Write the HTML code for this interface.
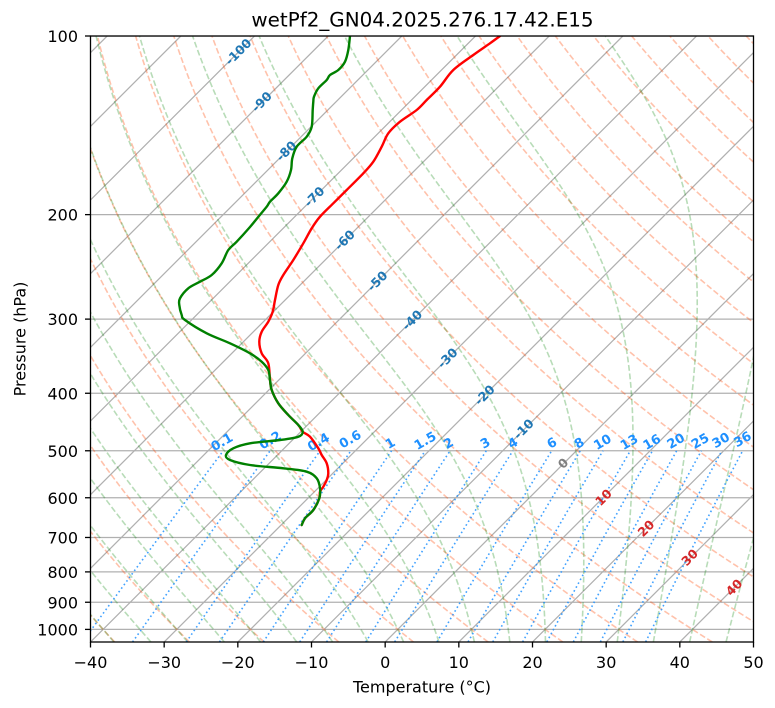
<!DOCTYPE html>
<html>
<head>
<meta charset="utf-8">
<style>
html,body{margin:0;padding:0;background:#fff;}
svg{display:block;font-family:"DejaVu Sans","Liberation Sans",sans-serif;}
.il{font-weight:bold;font-size:12.5px;text-anchor:middle;}
.ml{font-weight:bold;font-size:12.9px;text-anchor:middle;fill:#1e90ff;}
.tk{font-size:16px;fill:#000;}
</style>
</head>
<body>
<svg id="s" width="775" height="708" viewBox="0 0 775 708" xmlns="http://www.w3.org/2000/svg">
<defs><clipPath id="c"><rect x="90.5" y="36" width="663" height="606"/></clipPath></defs>
<rect width="775" height="708" fill="#fff"/>
<g clip-path="url(#c)">
  <g id="hgrid" stroke="#b0b0b0" stroke-width="1.25" fill="none"></g>
  <g id="iso" stroke="#b0b0b0" stroke-width="1.25" fill="none"></g>
  <g id="dry" stroke="#ff4500" stroke-opacity="0.33" stroke-width="1.6" fill="none" stroke-dasharray="5.9,2.6"></g>
  <g id="moist" stroke="#008000" stroke-opacity="0.28" stroke-width="1.6" fill="none" stroke-dasharray="5.9,2.6"></g>
  <g id="mix" stroke="#1e90ff" stroke-opacity="0.85" stroke-width="1.6" fill="none" stroke-dasharray="1.6,2.8"></g>

  <!-- isotherm labels -->
  <g id="isolab">
    <text class="il" fill="#1f77b4" transform="translate(238.2,51.7) rotate(-45)" dy="0.36em">-100</text>
    <text class="il" fill="#1f77b4" transform="translate(261.6,101.7) rotate(-45)" dy="0.36em">-90</text>
    <text class="il" fill="#1f77b4" transform="translate(286.2,151) rotate(-45)" dy="0.36em">-80</text>
    <text class="il" fill="#1f77b4" transform="translate(314.2,196.7) rotate(-45)" dy="0.36em">-70</text>
    <text class="il" fill="#1f77b4" transform="translate(344.6,240) rotate(-45)" dy="0.36em">-60</text>
    <text class="il" fill="#1f77b4" transform="translate(377.3,281) rotate(-45)" dy="0.36em">-50</text>
    <text class="il" fill="#1f77b4" transform="translate(412,320) rotate(-45)" dy="0.36em">-40</text>
    <text class="il" fill="#1f77b4" transform="translate(447.4,358) rotate(-45)" dy="0.36em">-30</text>
    <text class="il" fill="#1f77b4" transform="translate(484.5,395) rotate(-45)" dy="0.36em">-20</text>
    <text class="il" fill="#1f77b4" transform="translate(523.5,429) rotate(-45)" dy="0.36em">-10</text>
    <text class="il" fill="#7f7f7f" transform="translate(563,463.3) rotate(-45)" dy="0.36em">0</text>
    <text class="il" fill="#d62728" transform="translate(603.5,497.3) rotate(-45)" dy="0.36em">10</text>
    <text class="il" fill="#d62728" transform="translate(646,528.3) rotate(-45)" dy="0.36em">20</text>
    <text class="il" fill="#d62728" transform="translate(689.6,557.3) rotate(-45)" dy="0.36em">30</text>
    <text class="il" fill="#d62728" transform="translate(734,587.3) rotate(-45)" dy="0.36em">40</text>
  </g>

  <!-- mixing ratio labels -->
  <g id="mixlab">
    <text class="ml" transform="translate(221.7,441.7) rotate(-30)" dy="0.36em">0.1</text>
    <text class="ml" transform="translate(270,440) rotate(-30)" dy="0.36em">0.2</text>
    <text class="ml" transform="translate(318.3,441.7) rotate(-30)" dy="0.36em">0.4</text>
    <text class="ml" transform="translate(350,439) rotate(-30)" dy="0.36em">0.6</text>
    <text class="ml" transform="translate(390,443) rotate(-30)" dy="0.36em">1</text>
    <text class="ml" transform="translate(425,440.5) rotate(-30)" dy="0.36em">1.5</text>
    <text class="ml" transform="translate(448.3,443) rotate(-30)" dy="0.36em">2</text>
    <text class="ml" transform="translate(485,442.7) rotate(-30)" dy="0.36em">3</text>
    <text class="ml" transform="translate(512.7,442.7) rotate(-30)" dy="0.36em">4</text>
    <text class="ml" transform="translate(551.7,442.7) rotate(-30)" dy="0.36em">6</text>
    <text class="ml" transform="translate(579,442.7) rotate(-30)" dy="0.36em">8</text>
    <text class="ml" transform="translate(602.3,441.7) rotate(-30)" dy="0.36em">10</text>
    <text class="ml" transform="translate(629,441.7) rotate(-30)" dy="0.36em">13</text>
    <text class="ml" transform="translate(651.7,441.7) rotate(-30)" dy="0.36em">16</text>
    <text class="ml" transform="translate(675.7,440.7) rotate(-30)" dy="0.36em">20</text>
    <text class="ml" transform="translate(700,440.7) rotate(-30)" dy="0.36em">25</text>
    <text class="ml" transform="translate(720.7,440) rotate(-30)" dy="0.36em">30</text>
    <text class="ml" transform="translate(742.3,439) rotate(-30)" dy="0.36em">36</text>
  </g>

  <g id="prof" fill="none" stroke-width="2.4" stroke-linejoin="round" stroke-linecap="round"></g>
</g>

<!-- frame -->
<rect x="90.5" y="36" width="663" height="606" fill="none" stroke="#000" stroke-width="1.3"/>
<g id="ticks" stroke="#000" stroke-width="1.3"></g>

<!-- y tick labels -->
<g class="tk" text-anchor="end">
  <text x="78" y="42">100</text>
  <text x="78" y="220.6">200</text>
  <text x="78" y="325.1">300</text>
  <text x="78" y="399.3">400</text>
  <text x="78" y="456.8">500</text>
  <text x="78" y="503.8">600</text>
  <text x="78" y="543.5">700</text>
  <text x="78" y="577.9">800</text>
  <text x="78" y="608.3">900</text>
  <text x="78" y="635.4">1000</text>
</g>
<!-- x tick labels -->
<g class="tk" text-anchor="middle">
  <text x="90.5" y="668">−40</text>
  <text x="164.2" y="668">−30</text>
  <text x="237.8" y="668">−20</text>
  <text x="311.5" y="668">−10</text>
  <text x="385.2" y="668">0</text>
  <text x="458.8" y="668">10</text>
  <text x="532.5" y="668">20</text>
  <text x="606.2" y="668">30</text>
  <text x="679.8" y="668">40</text>
  <text x="753.5" y="668">50</text>
</g>

<text x="422" y="692.5" font-size="16" text-anchor="middle">Temperature (°C)</text>
<text transform="translate(25.5,339) rotate(-90)" font-size="16" text-anchor="middle">Pressure (hPa)</text>
<text x="422.5" y="26.5" font-size="19.9" text-anchor="middle">wetPf2_GN04.2025.276.17.42.E15</text>
</svg>

<script>
(function(){
const NS='http://www.w3.org/2000/svg';
const X0=90.5,YT=36,YB=642,K=593.4,S=663/90;
const Rd=287.04749,Lv=2.50084e6,Cp=1004.6662,eps=0.6219569;
const Y=p=>YT+K*Math.log10(p/100);
const X=(T,p)=>X0+(T+40)*S+(YB-Y(p));
function d(pts){return 'M'+pts.map(q=>X(q[0],q[1]).toFixed(2)+','+Y(q[1]).toFixed(2)).join('L');}
function add(id,ds,stroke){const e=document.createElementNS(NS,'path');e.setAttribute('d',ds);if(stroke)e.setAttribute('stroke',stroke);document.getElementById(id).appendChild(e);}

// horizontal grid + y ticks
for(let p=100;p<=1000;p+=100){
  const y=Y(p).toFixed(2);
  add('hgrid','M90.5,'+y+'L753.5,'+y);
  add('ticks','M85,'+y+'L90.5,'+y);
}
// x ticks
for(let T=-40;T<=50;T+=10){
  const x=(X0+(T+40)*S).toFixed(2);
  add('ticks','M'+x+',642L'+x+',647.5');
}
// isotherms
for(let T=-130;T<=50;T+=10){add('iso',d([[T,1050],[T,100]]));}

// dry adiabats
const kap=Rd/Cp;
for(let t=-40;t<=200;t+=10){
  const pts=[];
  for(let i=0;i<=120;i++){
    const p=1050*Math.pow(100/1050,i/120);
    pts.push([(t+273.15)*Math.pow(p/1000,kap)-273.15,p]);
  }
  add('dry',d(pts));
}

// moist adiabats
function es(Tk){const tc=Tk-273.15;return 6.112*Math.exp(17.67*tc/(tc+243.5));}
function f(lp,T){const p=Math.exp(lp);const e=es(T);const rs=eps*e/(p-e);
  return (Rd*T+Lv*rs)/(Cp+Lv*Lv*rs*eps/(Rd*T*T));}
function integ(T0,lp0,lp1,n){
  const h=(lp1-lp0)/n;let T=T0,lp=lp0;const out=[[T-273.15,Math.exp(lp)]];
  for(let i=0;i<n;i++){
    const k1=f(lp,T),k2=f(lp+h/2,T+h/2*k1),k3=f(lp+h/2,T+h/2*k2),k4=f(lp+h,T+h*k3);
    T+=h/6*(k1+2*k2+2*k3+k4);lp+=h;out.push([T-273.15,Math.exp(lp)]);
  }
  return out;
}
for(let t=-40;t<=50;t+=5){
  const T0=t+273.15;
  const up=integ(T0,Math.log(1000),Math.log(100),300);
  const dn=integ(T0,Math.log(1000),Math.log(1050),10).reverse();
  add('moist',d(dn.concat(up.slice(1))));
}

// mixing ratio lines
[0.1,0.2,0.4,0.6,1,1.5,2,3,4,6,8,10,13,16,20,25,30,36].forEach(w=>{
  w/=1000;const pts=[];
  for(let i=0;i<=40;i++){
    const p=1050-i*(550/40);
    const e=p*w/(eps+w);const v=Math.log(e/6.112);
    pts.push([243.5*v/(17.67-v),p]);
  }
  add('mix',d(pts));
});

// smooth profiles (Catmull-Rom)
function smooth(P){
  let s='M'+P[0][0]+','+P[0][1];
  for(let i=0;i<P.length-1;i++){
    const p0=P[i-1]||P[i],p1=P[i],p2=P[i+1],p3=P[i+2]||P[i+1];
    const c1x=p1[0]+(p2[0]-p0[0])/6,c1y=p1[1]+(p2[1]-p0[1])/6;
    const c2x=p2[0]-(p3[0]-p1[0])/6,c2y=p2[1]-(p3[1]-p1[1])/6;
    s+='C'+c1x.toFixed(2)+','+c1y.toFixed(2)+' '+c2x.toFixed(2)+','+c2y.toFixed(2)+' '+p2[0]+','+p2[1];
  }
  return s;
}
const red=[[500,36],[490,43.3],[473.3,55],[453.3,70],[440,86.7],[426.7,100],[416.7,110],[400,121.7],[388.3,133.3],[381.7,146.7],[373.3,161.7],[363.3,173.3],[346.7,190],[333.3,203.3],[320,216.7],[311.7,228.3],[303.3,243.3],[293.3,260],[283.3,275],[278.3,285],[275,300],[272.7,311.7],[268.3,321.7],[261.7,331.7],[259.3,341.7],[261.7,353.3],[268.3,363.3],[270,380],[271.7,390],[278.3,403.3],[288.3,415],[298.3,425],[302.7,431.7],[310,436.7],[318.3,448.3],[321.7,455],[326.7,463.3],[328.3,473.3],[326.7,480],[323.3,486.7],[320,491.7],[319.3,498.3],[313.3,510],[305,518.3],[301.7,525]];
const grn=[[350,36],[348.3,50],[345,61.7],[338.3,70],[330,75],[326.7,80],[318.3,88.3],[314,96.7],[313.3,101.7],[312.7,110],[311.7,126.7],[306.7,136.7],[296.7,146.7],[292.3,158.3],[291,170],[286.7,181.7],[278.3,193.3],[270,201.7],[266.7,206.7],[259,216],[250,227],[236.7,241.7],[228.3,250],[221.7,263.3],[211.7,275],[200,281.7],[188.3,288.3],[180,298.3],[179.3,305],[181.7,315],[185,320],[206.7,333.3],[230,343.3],[250,353.3],[261.7,361.7],[268.3,370],[270,380],[271.7,390],[278.3,403.3],[288.3,415],[298.3,425],[302.7,431.7],[298.3,436.7],[280,440],[250,443.3],[233.3,448.3],[226,455],[230,460],[250,465],[283.3,468.3],[306.7,471.7],[316.7,478.3],[320,488.3],[319.3,498.3],[313.3,510],[305,518.3],[301.7,525]];
add('prof',smooth(red),'#ff0000');
add('prof',smooth(grn),'#008000');
})();
</script>
</body>
</html>
